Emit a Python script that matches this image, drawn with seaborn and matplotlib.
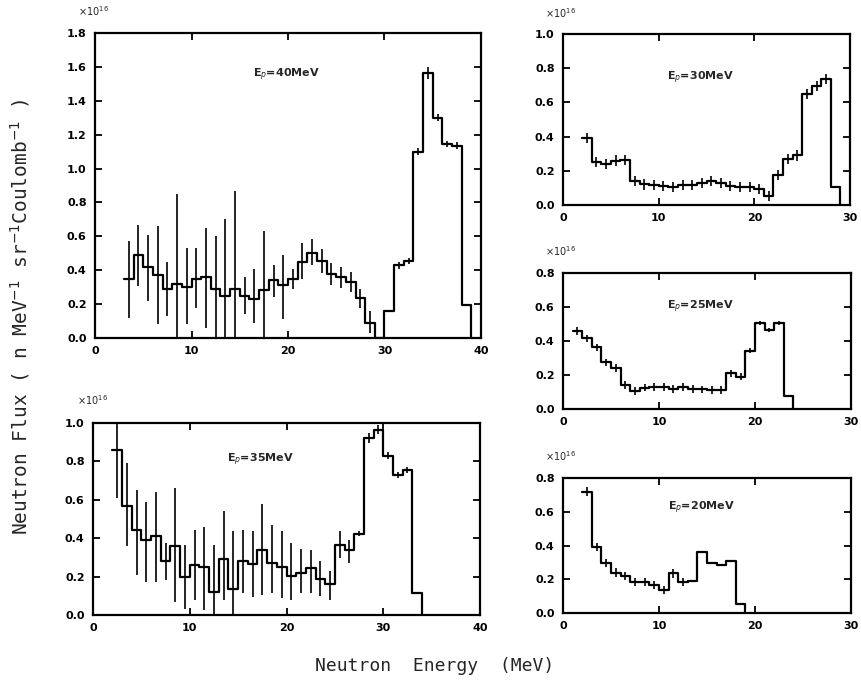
import numpy as np
import pandas as pd
import matplotlib
matplotlib.use("Agg")
import matplotlib.pyplot as plt
import seaborn as sns

sns.set_theme(style="ticks")
plt.rcParams['font.family'] = ['DejaVu Sans']

# ---------------- data (neutron flux, units of 1e16) ----------------
# Ep = 40 MeV, 1 MeV bins starting at 3 MeV
start40 = 3
vals40 = [0.35, 0.49, 0.42, 0.37, 0.29, 0.32, 0.30, 0.35, 0.36, 0.29, 0.245, 0.29,
          0.25, 0.23, 0.285, 0.345, 0.31, 0.35, 0.45, 0.50, 0.455, 0.38, 0.36, 0.33,
          0.235, 0.09, 0.0, 0.16, 0.43, 0.455, 1.10, 1.565, 1.30, 1.145, 1.135, 0.195]
lo40 = [0.12, 0.305, 0.22, 0.08, 0.13, 0.0, 0.08, 0.18, 0.06, 0.0, 0.0, 0.0,
        0.14, 0.09, 0.0, 0.24, 0.11, 0.29, 0.35, 0.43, 0.385, 0.31, 0.295, 0.27,
        0.18, 0.03, 0.0, 0.16, 0.41, 0.435, 1.08, 1.53, 1.28, 1.125, 1.115, 0.195]
hi40 = [0.57, 0.667, 0.61, 0.66, 0.45, 0.85, 0.53, 0.53, 0.65, 0.60, 0.70, 0.865,
        0.36, 0.41, 0.63, 0.43, 0.49, 0.41, 0.56, 0.585, 0.525, 0.44, 0.42, 0.39,
        0.29, 0.157, 0.0, 0.16, 0.45, 0.475, 1.12, 1.60, 1.32, 1.165, 1.155, 0.195]

# Ep = 35 MeV, 1 MeV bins starting at 2 MeV
start35 = 2
vals35 = [0.86, 0.57, 0.443, 0.39, 0.41, 0.28, 0.36, 0.197, 0.26, 0.25, 0.118, 0.29,
          0.134, 0.28, 0.264, 0.337, 0.273, 0.249, 0.203, 0.22, 0.243, 0.19, 0.16,
          0.365, 0.337, 0.424, 0.92, 0.965, 0.83, 0.73, 0.755, 0.117]
lo35 = [0.61, 0.357, 0.21, 0.174, 0.174, 0.183, 0.07, 0.03, 0.078, 0.026, 0.0, 0.078,
        0.0, 0.113, 0.096, 0.104, 0.113, 0.087, 0.078, 0.113, 0.113, 0.10, 0.078,
        0.295, 0.273, 0.41, 0.895, 0.945, 0.81, 0.715, 0.74, 0.117]
hi35 = [1.0, 0.79, 0.652, 0.59, 0.643, 0.377, 0.66, 0.365, 0.443, 0.46, 0.365, 0.54,
        0.435, 0.443, 0.435, 0.58, 0.47, 0.435, 0.374, 0.343, 0.336, 0.283, 0.23,
        0.435, 0.39, 0.44, 0.95, 0.99, 0.85, 0.745, 0.77, 0.117]

# Ep = 30 MeV, 1 MeV bins starting at 2 MeV
start30 = 2
vals30 = [0.39, 0.253, 0.238, 0.26, 0.263, 0.14, 0.12, 0.117, 0.11, 0.107, 0.117,
          0.115, 0.127, 0.14, 0.127, 0.113, 0.107, 0.107, 0.092, 0.053, 0.175, 0.27,
          0.29, 0.647, 0.696, 0.737, 0.107]
err30 = [0.03] * 26 + [0.0]

# Ep = 25 MeV, 1 MeV bins starting at 1 MeV
start25 = 1
vals25 = [0.46, 0.415, 0.362, 0.275, 0.24, 0.14, 0.105, 0.125, 0.13, 0.13, 0.118,
          0.128, 0.118, 0.115, 0.112, 0.112, 0.21, 0.19, 0.344, 0.505, 0.466, 0.505,
          0.075]
err25 = [0.022] * 18 + [0.012] * 4 + [0.0]

# Ep = 20 MeV, 1 MeV bins starting at 2 MeV
start20 = 2
vals20 = [0.72, 0.39, 0.295, 0.24, 0.22, 0.185, 0.185, 0.165, 0.135, 0.235, 0.185,
          0.19, 0.36, 0.295, 0.285, 0.31, 0.055]
err20 = [0.025] * 11 + [0.0] * 6

panel_labels = ["40", "35", "30", "25", "20"]

# ---------------- layout ----------------
W, H = 861, 690
fig = plt.figure(figsize=(W / 100, H / 100), dpi=100)


def add_axes(l, r, t, b):
    return fig.add_axes([l / W, 1 - b / H, (r - l) / W, (b - t) / H])


panels = [
    dict(ep="40", start=start40, vals=vals40, lo=lo40, hi=hi40,
         box=(95, 481, 33, 338), xmax=40, ymax=1.8, lab=(0.41, 0.862), exp=(-0.044, 1.049)),
    dict(ep="35", start=start35, vals=vals35, lo=lo35, hi=hi35,
         box=(93, 480, 423, 615), xmax=40, ymax=1.0, lab=(0.346, 0.807), exp=(-0.041, 1.083)),
    dict(ep="30", start=start30, vals=vals30, err=err30,
         box=(563, 850, 34, 205), xmax=30, ymax=1.0, lab=(0.363, 0.743), exp=(-0.063, 1.082)),
    dict(ep="25", start=start25, vals=vals25, err=err25,
         box=(563, 851, 273, 409), xmax=30, ymax=0.8, lab=(0.361, 0.75), exp=(-0.063, 1.11)),
    dict(ep="20", start=start20, vals=vals20, err=err20,
         box=(563, 851, 478, 613), xmax=30, ymax=0.8, lab=(0.365, 0.778), exp=(-0.063, 1.11)),
]

for p in panels:
    ax = add_axes(*p["box"])
    vals = np.asarray(p["vals"], dtype=float)
    n = len(vals)
    edges = p["start"] + np.arange(n + 1)
    centers = edges[:-1] + 0.5
    df = pd.DataFrame({"E": edges, "flux": np.append(vals, 0.0)})
    sns.lineplot(data=df, x="E", y="flux", ax=ax, drawstyle="steps-post",
                 color="black", linewidth=1.6, estimator=None, sort=False)
    if "lo" in p:
        lo = np.asarray(p["lo"]); hi = np.asarray(p["hi"])
        yerr = [vals - lo, hi - vals]
    else:
        e = np.asarray(p["err"])
        yerr = [e, e]
    ax.errorbar(centers, vals, yerr=yerr, fmt="none", ecolor="black",
                elinewidth=1.2, capsize=0)

    ax.set_xlim(0, p["xmax"])
    ax.set_ylim(0, p["ymax"])
    xt = np.arange(0, p["xmax"] + 1, 10)
    yt = np.round(np.arange(0, p["ymax"] + 0.001, 0.2), 1)
    ax.set_xticks(xt, [f"{v:d}" for v in xt], fontsize=8, fontweight="bold")
    ax.set_yticks(yt, [f"{v:.1f}" for v in yt], fontsize=8, fontweight="bold")
    ax.tick_params(direction="in", top=True, right=True, length=5, width=1.3,
                   colors="black", pad=6)
    ax.set_xlabel("")
    ax.set_ylabel("")
    for s in ax.spines.values():
        s.set_linewidth(1.6)
        s.set_color("black")
        s.set_visible(True)
    ax.text(p["lab"][0], p["lab"][1], f"E$_p$={p['ep']}MeV", transform=ax.transAxes,
            fontsize=8, fontweight="bold", ha="left", va="center")
    ax.text(p["exp"][0], p["exp"][1], r"×10$^{16}$", transform=ax.transAxes,
            fontsize=7, ha="left", va="bottom")

fig.text(20 / W, 1 - 317 / H,
         r"Neutron Flux ( n MeV$^{-1}$ sr$^{-1}$Coulomb$^{-1}$ )",
         rotation=90, ha="center", va="center", family="DejaVu Sans Mono", fontsize=14)
fig.text(435 / W, 1 - 666 / H, "Neutron  Energy  (MeV)",
         ha="center", va="center", family="DejaVu Sans Mono", fontsize=13)

fig.savefig("out.png", dpi=100, facecolor="white")
